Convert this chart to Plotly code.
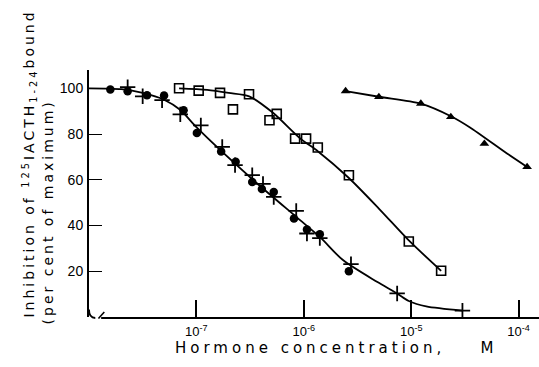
import plotly.graph_objects as go

# Competition of unlabelled hormones for 125I-ACTH(1-24) binding sites
# concentrations in mol/l, inhibition in per cent of maximum

# filled circles
circ_conc = [1.58e-8, 2.29e-8, 3.47e-8, 5.0e-8, 7.6e-8, 1.01e-7, 1.70e-7, 2.32e-7,
             3.31e-7, 4.07e-7, 5.25e-7, 8.1e-7, 1.07e-6, 1.41e-6, 2.63e-6]
circ_inh = [99.5, 98.7, 97.0, 96.8, 90.4, 80.5, 72.4, 67.9, 59.0, 56.0, 54.7, 43.1, 38.3, 36.2, 20.0]

# crosses
plus_conc = [2.29e-8, 3.16e-8, 4.79e-8, 7.08e-8, 1.10e-7, 1.74e-7, 2.29e-7, 3.31e-7,
             4.17e-7, 5.25e-7, 8.5e-7, 1.07e-6, 1.41e-6, 2.75e-6, 7.4e-6, 3.0e-5]
plus_inh = [100.5, 96.5, 94.8, 88.6, 83.8, 74.4, 66.4, 62.0, 58.2, 52.5, 46.4, 36.5, 34.5, 23.1, 10.3, 2.8]

# open squares
sq_conc = [6.9e-8, 1.05e-7, 1.66e-7, 2.19e-7, 3.09e-7, 4.79e-7, 5.6e-7, 8.3e-7,
           1.05e-6, 1.35e-6, 2.63e-6, 9.5e-6, 1.9e-5]
sq_inh = [100.0, 99.0, 98.0, 90.8, 97.4, 86.0, 88.8, 78.0, 78.0, 74.1, 62.0, 33.0, 20.2]

# filled triangles
tri_conc = [2.45e-6, 5.0e-6, 1.23e-5, 2.34e-5, 4.8e-5, 1.2e-4]
tri_inh = [98.8, 96.2, 93.3, 87.5, 75.8, 65.6]

# hand-drawn fitted curves
fitA_conc = [1.0e-8, 2.0e-8, 3.16e-8, 5.0e-8, 7.1e-8, 1.0e-7, 3.4e-7, 8.5e-7,
             1.41e-6, 2.3e-6, 4.8e-6, 7.4e-6, 9.5e-6, 1.38e-5, 3.0e-5]
fitA_inh = [100.0, 99.6, 98.0, 95.0, 90.5, 83.0, 59.8, 43.8, 35.0, 25.0, 15.4, 10.3, 7.0, 4.6, 2.8]

fitB_conc = [6.9e-8, 1.26e-7, 2.0e-7, 3.1e-7, 5.1e-7, 9.3e-7, 1.35e-6, 2.6e-6, 5.1e-6, 9.5e-6, 1.9e-5]
fitB_inh = [100.0, 99.3, 98.0, 96.5, 89.5, 78.0, 72.5, 61.0, 47.0, 33.5, 20.2]

fitC_conc = [2.45e-6, 5.0e-6, 1.23e-5, 2.34e-5, 3.5e-5, 7.8e-5, 1.2e-4]
fitC_inh = [98.8, 96.3, 93.3, 87.8, 83.0, 71.5, 65.6]

x_tick_vals = [1e-7, 1e-6, 1e-5, 1e-4]
x_tick_text = ["10<sup>-7</sup>", "10<sup>-6</sup>", "10<sup>-5</sup>", "10<sup>-4</sup>"]
y_tick_vals = [20, 40, 60, 80, 100]

INK = "black"
fig = go.Figure()

for cx, cy in [(fitA_conc, fitA_inh), (fitB_conc, fitB_inh), (fitC_conc, fitC_inh)]:
    fig.add_trace(go.Scatter(x=cx, y=cy, mode="lines",
                             line=dict(color=INK, width=1.8, shape="spline", smoothing=0.8),
                             hoverinfo="skip"))

fig.add_trace(go.Scatter(x=circ_conc, y=circ_inh, mode="markers",
                         marker=dict(symbol="circle", size=8.5, color=INK)))
fig.add_trace(go.Scatter(x=plus_conc, y=plus_inh, mode="markers",
                         marker=dict(symbol="cross-thin-open", size=11, color=INK,
                                     line=dict(color=INK, width=1.8))))
fig.add_trace(go.Scatter(x=sq_conc, y=sq_inh, mode="markers",
                         marker=dict(symbol="square-open", size=9, color=INK,
                                     line=dict(color=INK, width=1.6))))
fig.add_trace(go.Scatter(x=tri_conc, y=tri_inh, mode="markers",
                         marker=dict(symbol="triangle-up", size=8.5, color=INK)))

tick_font = dict(family="Liberation Sans, Arial, sans-serif", size=14, color=INK)
title_font = dict(family="DejaVu Sans, sans-serif", size=14, color=INK)

fig.update_layout(
    width=539, height=367,
    margin=dict(l=89, r=0, t=70, b=50),
    paper_bgcolor="white", plot_bgcolor="white",
    showlegend=False,
    xaxis=dict(type="log", range=[-8, -3.81], tickvals=x_tick_vals, ticktext=x_tick_text,
               ticks="inside", ticklen=17, tickwidth=1.6, tickcolor=INK,
               showline=False, showgrid=False, zeroline=False,
               tickfont=dict(family="Liberation Sans, Arial, sans-serif", size=13, color=INK),
               ticklabelstandoff=5),
    yaxis=dict(range=[0, 108], tickvals=y_tick_vals, ticks="inside", ticklen=13,
               tickwidth=1.4, tickcolor=INK, showline=True, linecolor=INK, linewidth=2,
               showgrid=False, zeroline=False, tickfont=tick_font, ticklabelstandoff=1),
)

# x-axis line with a break near the origin
fig.add_shape(type="line", xref="paper", yref="paper", x0=0.027, x1=1.0, y0=-0.004, y1=-0.004,
              line=dict(color=INK, width=2))
fig.add_shape(type="line", xref="paper", yref="paper", x0=0.021, x1=0.034, y0=-0.006, y1=0.02,
              line=dict(color=INK, width=1.6))
fig.add_shape(type="path", xref="paper", yref="paper",
              path="M 0.0 0.03 Q 0.0 -0.004 0.014 -0.004",
              line=dict(color=INK, width=1.8))

spaced = '<span style="letter-spacing:3px">{}</span>'
fig.add_annotation(text=spaced.format("Inhibition of <sup>125</sup>IACTH<sub>1-24</sub>bound"),
                   xref="paper", yref="paper", x=-0.131, y=-0.01, xanchor="center", yanchor="bottom",
                   textangle=-90, showarrow=False, font=title_font)
fig.add_annotation(text=spaced.format("(per cent of maximum)"),
                   xref="paper", yref="paper", x=-0.091, y=-0.04, xanchor="center", yanchor="bottom",
                   textangle=-90, showarrow=False, font=title_font)
fig.add_annotation(text='<span style="letter-spacing:4px">Hormone concentration,\u00a0\u00a0\u00a0\u00a0M</span>',
                   xref="paper", yref="paper", x=0.187, y=-0.125, xanchor="left", yanchor="middle",
                   showarrow=False, font=dict(family="DejaVu Sans, sans-serif", size=15, color=INK))

fig.write_html("out.html")
